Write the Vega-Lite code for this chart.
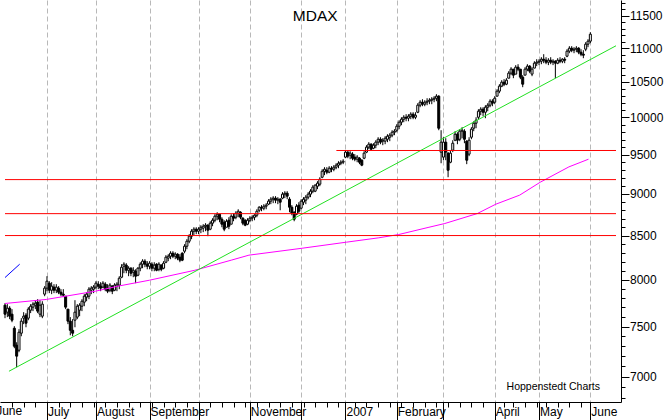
{
  "$schema": "https://vega.github.io/schema/vega-lite/v6.json",
  "width": 621,
  "height": 402,
  "autosize": {"type": "none"},
  "padding": {"left": 0, "top": 0, "right": 48, "bottom": 18},
  "background": "white",
  "config": {
    "view": {"stroke": null},
    "font": "Liberation Sans",
    "axis": {"domainColor": "black", "tickColor": "black", "labelColor": "black", "labelFont": "Liberation Sans", "labelFontSize": 12, "domainWidth": 1, "tickWidth": 1}
  },
  "datasets": {
    "ohlc": [
      {"t":0,"o":7724,"h":7745,"l":7587,"c":7629},{"t":1,"o":7650,"h":7735,"l":7598,"c":7692},{"t":2,"o":7692,"h":7713,"l":7577,"c":7608},{"t":3,"o":7629,"h":7682,"l":7545,"c":7566},{"t":4,"o":7483,"h":7504,"l":7280,"c":7300},{"t":5,"o":7310,"h":7340,"l":7092,"c":7201},{"t":6,"o":7260,"h":7473,"l":7240,"c":7442},{"t":7,"o":7432,"h":7587,"l":7401,"c":7556},{"t":8,"o":7587,"h":7650,"l":7525,"c":7608},{"t":9,"o":7619,"h":7640,"l":7493,"c":7535},
      {"t":10,"o":7587,"h":7703,"l":7566,"c":7682},{"t":11,"o":7671,"h":7735,"l":7640,"c":7713},{"t":12,"o":7703,"h":7756,"l":7661,"c":7735},{"t":13,"o":7724,"h":7777,"l":7682,"c":7745},{"t":14,"o":7756,"h":7788,"l":7640,"c":7661},{"t":15,"o":7629,"h":7777,"l":7598,"c":7724},{"t":16,"o":7608,"h":7766,"l":7587,"c":7735},{"t":17,"o":7842,"h":7929,"l":7820,"c":7907},{"t":18,"o":7907,"h":8038,"l":7874,"c":7983},{"t":19,"o":7961,"h":7983,"l":7853,"c":7885},
      {"t":20,"o":7885,"h":7972,"l":7842,"c":7929},{"t":21,"o":7918,"h":7950,"l":7853,"c":7885},{"t":22,"o":7885,"h":7950,"l":7853,"c":7918},{"t":23,"o":7907,"h":7929,"l":7842,"c":7863},{"t":24,"o":7863,"h":7896,"l":7820,"c":7842},{"t":25,"o":7842,"h":7896,"l":7810,"c":7831},{"t":26,"o":7820,"h":7820,"l":7682,"c":7703},{"t":27,"o":7682,"h":7682,"l":7525,"c":7556},{"t":28,"o":7556,"h":7598,"l":7411,"c":7462},{"t":29,"o":7462,"h":7577,"l":7401,"c":7432},
      {"t":30,"o":7566,"h":7777,"l":7493,"c":7650},{"t":31,"o":7598,"h":7735,"l":7577,"c":7713},{"t":32,"o":7671,"h":7745,"l":7608,"c":7724},{"t":33,"o":7713,"h":7788,"l":7661,"c":7766},{"t":34,"o":7756,"h":7842,"l":7713,"c":7820},{"t":35,"o":7810,"h":7863,"l":7766,"c":7842},{"t":36,"o":7820,"h":7918,"l":7788,"c":7896},{"t":37,"o":7885,"h":7929,"l":7842,"c":7907},{"t":38,"o":7896,"h":7940,"l":7853,"c":7918},{"t":39,"o":7918,"h":7983,"l":7896,"c":7961},
      {"t":40,"o":7950,"h":7983,"l":7896,"c":7929},{"t":41,"o":7929,"h":7972,"l":7874,"c":7907},{"t":42,"o":7918,"h":7983,"l":7907,"c":7961},{"t":43,"o":7950,"h":7972,"l":7874,"c":7896},{"t":44,"o":7896,"h":7950,"l":7853,"c":7874},{"t":45,"o":7885,"h":7961,"l":7863,"c":7940},{"t":46,"o":7929,"h":7940,"l":7842,"c":7874},{"t":47,"o":7885,"h":7961,"l":7874,"c":7940},{"t":48,"o":7929,"h":7972,"l":7874,"c":7950},{"t":49,"o":7940,"h":8038,"l":7896,"c":8016},
      {"t":50,"o":8027,"h":8172,"l":8016,"c":8138},{"t":51,"o":8149,"h":8194,"l":8071,"c":8172},{"t":52,"o":8161,"h":8183,"l":8071,"c":8104},{"t":53,"o":8104,"h":8149,"l":8038,"c":8127},{"t":54,"o":8127,"h":8138,"l":8038,"c":8071},{"t":55,"o":8082,"h":8138,"l":8027,"c":8104},{"t":56,"o":8093,"h":8115,"l":7961,"c":8038},{"t":57,"o":8049,"h":8138,"l":8038,"c":8127},{"t":58,"o":8127,"h":8194,"l":8093,"c":8172},{"t":59,"o":8172,"h":8228,"l":8127,"c":8206},
      {"t":60,"o":8206,"h":8228,"l":8138,"c":8172},{"t":61,"o":8172,"h":8206,"l":8115,"c":8149},{"t":62,"o":8149,"h":8206,"l":8115,"c":8183},{"t":63,"o":8172,"h":8194,"l":8093,"c":8127},{"t":64,"o":8127,"h":8194,"l":8093,"c":8161},{"t":65,"o":8172,"h":8183,"l":8093,"c":8104},{"t":66,"o":8115,"h":8194,"l":8093,"c":8172},{"t":67,"o":8161,"h":8172,"l":8093,"c":8115},{"t":68,"o":8127,"h":8206,"l":8115,"c":8183},{"t":69,"o":8194,"h":8274,"l":8183,"c":8251},
      {"t":70,"o":8240,"h":8285,"l":8206,"c":8262},{"t":71,"o":8262,"h":8319,"l":8228,"c":8296},{"t":72,"o":8296,"h":8319,"l":8240,"c":8262},{"t":73,"o":8262,"h":8307,"l":8228,"c":8285},{"t":74,"o":8285,"h":8296,"l":8217,"c":8240},{"t":75,"o":8251,"h":8285,"l":8194,"c":8217},{"t":76,"o":8296,"h":8307,"l":8206,"c":8217},{"t":77,"o":8319,"h":8400,"l":8296,"c":8376},{"t":78,"o":8376,"h":8458,"l":8342,"c":8434},{"t":79,"o":8434,"h":8516,"l":8411,"c":8493},
      {"t":80,"o":8493,"h":8575,"l":8458,"c":8551},{"t":81,"o":8551,"h":8598,"l":8505,"c":8575},{"t":82,"o":8575,"h":8598,"l":8516,"c":8551},{"t":83,"o":8551,"h":8598,"l":8516,"c":8575},{"t":84,"o":8575,"h":8622,"l":8528,"c":8598},{"t":85,"o":8587,"h":8634,"l":8540,"c":8610},{"t":86,"o":8610,"h":8646,"l":8551,"c":8622},{"t":87,"o":8622,"h":8634,"l":8493,"c":8563},{"t":88,"o":8575,"h":8669,"l":8563,"c":8646},{"t":89,"o":8646,"h":8705,"l":8610,"c":8681},
      {"t":90,"o":8681,"h":8753,"l":8657,"c":8729},{"t":91,"o":8729,"h":8777,"l":8681,"c":8753},{"t":92,"o":8753,"h":8753,"l":8657,"c":8693},{"t":93,"o":8693,"h":8717,"l":8598,"c":8634},{"t":94,"o":8657,"h":8681,"l":8551,"c":8575},{"t":95,"o":8598,"h":8693,"l":8598,"c":8669},{"t":96,"o":8681,"h":8717,"l":8575,"c":8610},{"t":97,"o":8634,"h":8753,"l":8646,"c":8729},{"t":98,"o":8729,"h":8765,"l":8669,"c":8705},{"t":99,"o":8717,"h":8789,"l":8693,"c":8765},
      {"t":100,"o":8765,"h":8813,"l":8717,"c":8789},{"t":101,"o":8777,"h":8789,"l":8693,"c":8717},{"t":102,"o":8705,"h":8717,"l":8622,"c":8646},{"t":103,"o":8681,"h":8693,"l":8610,"c":8622},{"t":104,"o":8634,"h":8705,"l":8622,"c":8681},{"t":105,"o":8681,"h":8729,"l":8657,"c":8705},{"t":106,"o":8705,"h":8741,"l":8669,"c":8717},{"t":107,"o":8717,"h":8753,"l":8681,"c":8741},{"t":108,"o":8741,"h":8813,"l":8717,"c":8789},{"t":109,"o":8801,"h":8850,"l":8777,"c":8838},
      {"t":110,"o":8838,"h":8863,"l":8789,"c":8826},{"t":111,"o":8826,"h":8875,"l":8801,"c":8850},{"t":112,"o":8850,"h":8887,"l":8813,"c":8863},{"t":113,"o":8875,"h":8936,"l":8863,"c":8912},{"t":114,"o":8912,"h":8961,"l":8875,"c":8936},{"t":115,"o":8936,"h":8973,"l":8887,"c":8949},{"t":116,"o":8949,"h":8973,"l":8887,"c":8924},{"t":117,"o":8924,"h":8961,"l":8875,"c":8936},{"t":118,"o":8936,"h":8949,"l":8801,"c":8899},{"t":119,"o":8949,"h":9023,"l":8936,"c":8998},
      {"t":120,"o":8998,"h":9035,"l":8949,"c":9010},{"t":121,"o":9010,"h":9035,"l":8936,"c":8973},{"t":122,"o":8936,"h":8961,"l":8777,"c":8838},{"t":123,"o":8838,"h":8863,"l":8741,"c":8765},{"t":124,"o":8777,"h":8789,"l":8669,"c":8693},{"t":125,"o":8753,"h":8875,"l":8741,"c":8850},{"t":126,"o":8863,"h":8899,"l":8765,"c":8789},{"t":127,"o":8826,"h":8936,"l":8813,"c":8912},{"t":128,"o":8899,"h":8961,"l":8863,"c":8936},{"t":129,"o":8924,"h":8986,"l":8875,"c":8961},
      {"t":130,"o":8961,"h":9023,"l":8936,"c":8998},{"t":131,"o":8998,"h":9060,"l":8961,"c":9035},{"t":132,"o":9035,"h":9110,"l":9010,"c":9085},{"t":133,"o":9035,"h":9122,"l":9023,"c":9110},{"t":134,"o":9097,"h":9160,"l":9060,"c":9135},{"t":135,"o":9122,"h":9210,"l":9097,"c":9185},{"t":136,"o":9210,"h":9312,"l":9197,"c":9286},{"t":137,"o":9286,"h":9338,"l":9236,"c":9312},{"t":138,"o":9299,"h":9338,"l":9248,"c":9274},{"t":139,"o":9274,"h":9351,"l":9261,"c":9325},
      {"t":140,"o":9325,"h":9351,"l":9274,"c":9312},{"t":141,"o":9312,"h":9364,"l":9286,"c":9338},{"t":142,"o":9338,"h":9389,"l":9312,"c":9364},{"t":143,"o":9364,"h":9415,"l":9325,"c":9389},{"t":144,"o":9389,"h":9428,"l":9364,"c":9402},{"t":145,"o":9402,"h":9441,"l":9377,"c":9415},{"t":146,"o":9468,"h":9559,"l":9454,"c":9533},{"t":147,"o":9533,"h":9559,"l":9454,"c":9481},{"t":148,"o":9494,"h":9546,"l":9441,"c":9520},{"t":149,"o":9507,"h":9533,"l":9428,"c":9454},
      {"t":150,"o":9468,"h":9507,"l":9415,"c":9441},{"t":151,"o":9441,"h":9494,"l":9402,"c":9468},{"t":152,"o":9454,"h":9468,"l":9377,"c":9402},{"t":153,"o":9428,"h":9441,"l":9351,"c":9364},{"t":154,"o":9454,"h":9546,"l":9441,"c":9520},{"t":155,"o":9533,"h":9625,"l":9520,"c":9599},{"t":156,"o":9599,"h":9665,"l":9572,"c":9638},{"t":157,"o":9638,"h":9651,"l":9559,"c":9572},{"t":158,"o":9585,"h":9651,"l":9572,"c":9625},{"t":159,"o":9625,"h":9691,"l":9585,"c":9665},
      {"t":160,"o":9665,"h":9731,"l":9625,"c":9704},{"t":161,"o":9704,"h":9731,"l":9638,"c":9665},{"t":162,"o":9678,"h":9718,"l":9625,"c":9691},{"t":163,"o":9678,"h":9745,"l":9638,"c":9718},{"t":164,"o":9704,"h":9771,"l":9665,"c":9745},{"t":165,"o":9731,"h":9785,"l":9678,"c":9758},{"t":166,"o":9758,"h":9825,"l":9731,"c":9798},{"t":167,"o":9798,"h":9839,"l":9758,"c":9812},{"t":168,"o":9825,"h":9907,"l":9798,"c":9879},{"t":169,"o":9879,"h":9961,"l":9839,"c":9934},
      {"t":170,"o":9934,"h":10002,"l":9893,"c":9975},{"t":171,"o":9975,"h":10030,"l":9934,"c":10002},{"t":172,"o":10002,"h":10044,"l":9947,"c":9989},{"t":173,"o":9989,"h":10044,"l":9947,"c":10016},{"t":174,"o":10016,"h":10071,"l":9975,"c":10044},{"t":175,"o":10044,"h":10071,"l":9975,"c":10002},{"t":176,"o":10002,"h":10071,"l":9975,"c":10030},{"t":177,"o":10071,"h":10197,"l":10058,"c":10169},{"t":178,"o":10169,"h":10239,"l":10141,"c":10211},{"t":179,"o":10211,"h":10253,"l":10155,"c":10183},
      {"t":180,"o":10183,"h":10239,"l":10155,"c":10211},{"t":181,"o":10211,"h":10267,"l":10169,"c":10225},{"t":182,"o":10225,"h":10267,"l":10183,"c":10239},{"t":183,"o":10239,"h":10282,"l":10183,"c":10253},{"t":184,"o":10253,"h":10296,"l":10211,"c":10267},{"t":185,"o":10267,"h":10324,"l":10225,"c":10296},{"t":186,"o":10296,"h":10310,"l":9825,"c":9852},{"t":187,"o":9533,"h":9825,"l":9389,"c":9665},{"t":188,"o":9468,"h":9731,"l":9428,"c":9665},{"t":189,"o":9665,"h":9718,"l":9428,"c":9533},
      {"t":190,"o":9520,"h":9533,"l":9210,"c":9299},{"t":191,"o":9402,"h":9559,"l":9389,"c":9520},{"t":192,"o":9559,"h":9691,"l":9533,"c":9651},{"t":193,"o":9691,"h":9812,"l":9678,"c":9771},{"t":194,"o":9771,"h":9798,"l":9638,"c":9691},{"t":195,"o":9704,"h":9839,"l":9678,"c":9812},{"t":196,"o":9812,"h":9866,"l":9718,"c":9825},{"t":197,"o":9812,"h":9839,"l":9651,"c":9704},{"t":198,"o":9678,"h":9691,"l":9377,"c":9428},{"t":199,"o":9507,"h":9731,"l":9481,"c":9691},
      {"t":200,"o":9731,"h":9866,"l":9704,"c":9839},{"t":201,"o":9852,"h":9947,"l":9812,"c":9920},{"t":202,"o":9920,"h":10002,"l":9852,"c":9961},{"t":203,"o":10002,"h":10113,"l":9975,"c":10085},{"t":204,"o":10085,"h":10141,"l":10030,"c":10113},{"t":205,"o":10113,"h":10141,"l":10016,"c":10071},{"t":206,"o":10071,"h":10169,"l":9989,"c":10141},{"t":207,"o":10141,"h":10197,"l":10085,"c":10169},{"t":208,"o":10169,"h":10253,"l":10141,"c":10225},{"t":209,"o":10225,"h":10253,"l":10155,"c":10197},
      {"t":210,"o":10211,"h":10296,"l":10183,"c":10267},{"t":211,"o":10296,"h":10395,"l":10296,"c":10367},{"t":212,"o":10367,"h":10467,"l":10338,"c":10439},{"t":213,"o":10439,"h":10525,"l":10424,"c":10496},{"t":214,"o":10496,"h":10540,"l":10439,"c":10467},{"t":215,"o":10467,"h":10554,"l":10453,"c":10525},{"t":216,"o":10554,"h":10656,"l":10554,"c":10627},{"t":217,"o":10627,"h":10715,"l":10598,"c":10686},{"t":218,"o":10686,"h":10686,"l":10554,"c":10598},{"t":219,"o":10613,"h":10745,"l":10613,"c":10715},
      {"t":220,"o":10715,"h":10759,"l":10656,"c":10686},{"t":221,"o":10686,"h":10686,"l":10540,"c":10569},{"t":222,"o":10569,"h":10598,"l":10424,"c":10467},{"t":223,"o":10598,"h":10715,"l":10598,"c":10686},{"t":224,"o":10686,"h":10759,"l":10656,"c":10730},{"t":225,"o":10730,"h":10745,"l":10627,"c":10656},{"t":226,"o":10613,"h":10715,"l":10583,"c":10686},{"t":227,"o":10701,"h":10803,"l":10701,"c":10774},{"t":228,"o":10774,"h":10833,"l":10730,"c":10789},{"t":229,"o":10789,"h":10833,"l":10745,"c":10803},
      {"t":230,"o":10803,"h":10863,"l":10759,"c":10833},{"t":231,"o":10833,"h":10908,"l":10774,"c":10818},{"t":232,"o":10818,"h":10863,"l":10759,"c":10789},{"t":233,"o":10789,"h":10848,"l":10745,"c":10818},{"t":234,"o":10818,"h":10863,"l":10759,"c":10789},{"t":235,"o":10789,"h":10833,"l":10745,"c":10803},{"t":236,"o":10803,"h":10818,"l":10554,"c":10774},{"t":237,"o":10774,"h":10848,"l":10759,"c":10818},{"t":238,"o":10818,"h":10863,"l":10774,"c":10803},{"t":239,"o":10803,"h":10848,"l":10774,"c":10833},
      {"t":240,"o":10833,"h":10863,"l":10774,"c":10818},{"t":241,"o":10878,"h":10983,"l":10863,"c":10953},{"t":242,"o":10953,"h":11029,"l":10923,"c":10998},{"t":243,"o":10998,"h":11029,"l":10938,"c":10968},{"t":244,"o":10968,"h":11014,"l":10923,"c":10983},{"t":245,"o":10983,"h":11029,"l":10938,"c":10998},{"t":246,"o":10998,"h":11014,"l":10908,"c":10938},{"t":247,"o":10938,"h":10983,"l":10878,"c":10908},{"t":248,"o":10908,"h":10968,"l":10848,"c":10893},{"t":249,"o":10983,"h":11090,"l":10953,"c":11059},
      {"t":250,"o":11059,"h":11135,"l":11014,"c":11105},{"t":251,"o":11105,"h":11243,"l":11074,"c":11212}
    ],
    "ma": [
      {"t":0,"v":7742},{"t":17.7,"v":7785},{"t":38.8,"v":7874},{"t":48.5,"v":7929},{"t":62,"v":7994},{"t":81.4,"v":8104},{"t":97,"v":8217},{"t":104.6,"v":8274},{"t":127.4,"v":8353},{"t":146.4,"v":8423},{"t":160.3,"v":8474},{"t":168.8,"v":8512},{"t":181.4,"v":8595},{"t":188.6,"v":8642},{"t":202.5,"v":8761},{"t":210.5,"v":8875},{"t":220.7,"v":8986},{"t":229.5,"v":9147},{"t":241.8,"v":9342},{"t":250.2,"v":9441}
    ],
    "trend": [{"t":1.7,"v":7053},{"t":262,"v":11035}],
    "blue": [{"t":0,"v":8023},{"t":6.3,"v":8172}],
    "levels": [
      {"v":9180,"a":0,"b":262},{"v":8760,"a":0,"b":262},{"v":8500,"a":0,"b":262},{"v":9555,"a":142.1,"b":262}
    ]
  },
  "layer": [
    {
      "data": {"name": "ohlc"},
      "mark": {"type": "rule", "color": "black", "strokeWidth": 1},
      "encoding": {
        "x": {
          "field": "t", "type": "quantitative",
          "scale": {"domain": [0, 262], "nice": false, "zero": false},
          "axis": {
            "orient": "bottom", "title": null,
            "values": [3,8,13,18,23,28,33,38,39,43,48,53,58,62,63,68,73,78,83,88,93,98,103,105,108,113,118,123,127,128,133,138,143,146,150,155,160,165,168,170,175,180,185,188,190,195,200,205,210,214,218,223,228,229,232,237,242,247,251],
            "tickCount": 1000,
            "grid": true,
            "gridColor": "#b8b8b8",
            "gridDash": [5, 3],
            "gridOpacity": {"condition": {"test": "indexof([18,39,62,83,105,127,146,168,188,210,229,251], datum.value) >= 0", "value": 1}, "value": 0},
            "tickSize": {"condition": {"test": "indexof([18,39,62,83,105,127,146,168,188,210,229,251], datum.value) >= 0", "value": 18}, "value": 5},
            "labelExpr": "datum.value == 18 ? 'July' : datum.value == 39 ? 'August' : datum.value == 62 ? 'September' : datum.value == 105 ? 'November' : datum.value == 146 ? '2007' : datum.value == 168 ? 'February' : datum.value == 210 ? 'April' : datum.value == 229 ? 'May' : datum.value == 251 ? 'June' : ''",
            "labelAlign": "left",
            "labelBaseline": "alphabetic",
            "labelPadding": -5,
            "labelOffset": 0.5,
            "labelOverlap": false,
            "labelFlush": false,
            "labelBound": false
          }
        },
        "y": {
          "field": "l", "type": "quantitative",
          "scale": {"type": "log", "domain": [6761, 11752], "nice": false},
          "axis": {
            "orient": "right", "title": null, "grid": false,
            "values": [6800,6900,7000,7100,7200,7300,7400,7500,7600,7700,7800,7900,8000,8100,8200,8300,8400,8500,8600,8700,8800,8900,9000,9100,9200,9300,9400,9500,9600,9700,9800,9900,10000,10100,10200,10300,10400,10500,10600,10700,10800,10900,11000,11100,11200,11300,11400,11500,11600,11700],
            "tickCount": 1000,
            "format": "d",
            "labelExpr": "datum.value % 500 === 0 ? datum.label : ''",
            "tickSize": {"condition": {"test": "datum.value % 500 === 0", "value": 8}, "value": 4},
            "labelPadding": 0.5,
            "labelAlign": "left",
            "labelBaseline": "middle",
            "labelOverlap": false,
            "labelFlush": false,
            "labelBound": false
          }
        },
        "y2": {"field": "h"}
      }
    },
    {
      "data": {"name": "ohlc"},
      "mark": {"type": "bar", "size": 2, "stroke": "black", "strokeWidth": 1},
      "encoding": {
        "x": {"field": "t", "type": "quantitative"},
        "y": {"field": "o", "type": "quantitative"},
        "y2": {"field": "c"},
        "fill": {"condition": {"test": "datum.c > datum.o", "value": "white"}, "value": "black"}
      }
    },
    {
      "data": {"name": "ma"},
      "mark": {"type": "line", "color": "#ff00ff", "strokeWidth": 1},
      "encoding": {"x": {"field": "t", "type": "quantitative"}, "y": {"field": "v", "type": "quantitative"}}
    },
    {
      "data": {"name": "trend"},
      "mark": {"type": "line", "color": "#22e022", "strokeWidth": 1},
      "encoding": {"x": {"field": "t", "type": "quantitative"}, "y": {"field": "v", "type": "quantitative"}}
    },
    {
      "data": {"name": "blue"},
      "mark": {"type": "line", "color": "#0000ff", "strokeWidth": 1},
      "encoding": {"x": {"field": "t", "type": "quantitative"}, "y": {"field": "v", "type": "quantitative"}}
    },
    {
      "data": {"name": "levels"},
      "mark": {"type": "rule", "color": "#ff0000", "strokeWidth": 1},
      "encoding": {"x": {"field": "a", "type": "quantitative"}, "x2": {"field": "b"}, "y": {"field": "v", "type": "quantitative"}}
    },
    {
      "data": {"values": [{"t": 133, "v": 11494, "label": "MDAX"}]},
      "mark": {"type": "text", "font": "Liberation Sans", "fontSize": 15.5, "color": "black", "align": "center", "baseline": "middle"},
      "encoding": {"x": {"field": "t", "type": "quantitative"}, "y": {"field": "v", "type": "quantitative"}, "text": {"field": "label"}}
    },
    {
      "data": {"values": [{"t": 235.1, "v": 6871, "label": "Hoppenstedt Charts"}]},
      "mark": {"type": "text", "font": "Liberation Sans", "fontSize": 10.5, "color": "black", "align": "center", "baseline": "alphabetic"},
      "encoding": {"x": {"field": "t", "type": "quantitative"}, "y": {"field": "v", "type": "quantitative"}, "text": {"field": "label"}}
    },
    {
      "data": {"values": [{"t": -4, "v": 6644, "label": "June"}]},
      "mark": {"type": "text", "font": "Liberation Sans", "fontSize": 12, "color": "black", "align": "left", "baseline": "alphabetic", "dx": 0.5},
      "encoding": {"x": {"field": "t", "type": "quantitative"}, "y": {"field": "v", "type": "quantitative"}, "text": {"field": "label"}}
    }
  ]
}
